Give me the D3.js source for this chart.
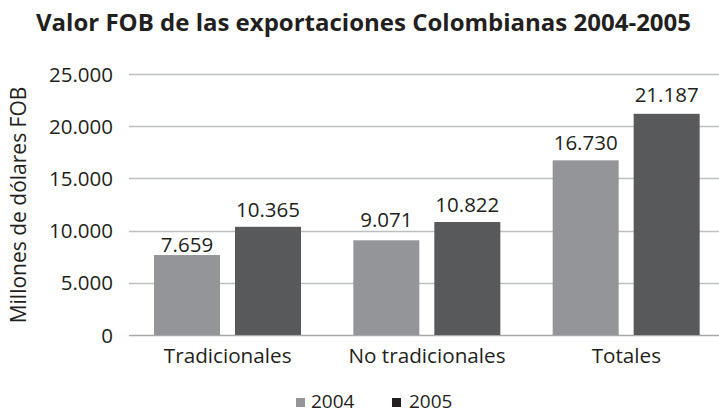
<!DOCTYPE html>
<html><head><meta charset="utf-8">
<script src="https://cdn.jsdelivr.net/npm/d3@7"></script>
<style>body{margin:0;background:#fff}svg{display:block}</style>
</head><body>
<script>
const title = "Valor FOB de las exportaciones Colombianas 2004-2005";
const yAxisTitle = "Millones de dólares FOB";
const categories = ["Tradicionales", "No tradicionales", "Totales"];
const seriesNames = ["2004", "2005"];
const values2004 = [7659, 9071, 16730];
const values2005 = [10365, 10822, 21187];
const yTicks = [0, 5000, 10000, 15000, 20000, 25000];
const colors = ["#939598", "#58595b"];
const legendColors = ["#939598", "#231f20"];
// styling: gap between bar top and its value label (px)
const labelGap2004 = [3, 13, 10];
const labelGap2005 = [10, 10, 12];

const W = 719, H = 414;
const font = "'Open Sans', sans-serif";
const textColor = "#231f20";
const wordSize = 20.7, numSize = 20.5;
const svg = d3.select("body").append("svg").attr("width", W).attr("height", H);

const y = d3.scaleLinear().domain([0, 25000]).range([335, 74]);
const x0 = d3.scaleBand().domain(categories).range([128, 726]).paddingInner(0).paddingOuter(0);
const x1 = d3.scaleBand().domain(seriesNames).range([26, 173]).paddingInner(0.185).paddingOuter(0);

const fmt = d3.formatLocale({decimal: ",", thousands: ".", grouping: [3], currency: ["$", ""]}).format(",");

// gridlines
svg.append("g").selectAll("line").data(yTicks).join("line")
  .attr("x1", 129).attr("x2", W).attr("y1", d => Math.round(y(d)) + 0.5).attr("y2", d => Math.round(y(d)) + 0.5)
  .attr("stroke", d => d === 0 ? "#a7a9ac" : "#bcbec0").attr("stroke-width", 1.3);

// y axis labels
const yAxis = d3.axisLeft(y).tickValues(yTicks).tickFormat(d => fmt(d)).tickSize(0).tickPadding(0);
const yg = svg.append("g").attr("transform", "translate(113,0)").call(yAxis);
yg.select(".domain").remove();
yg.selectAll("text").attr("font-family", font).attr("font-size", numSize).attr("fill", textColor).attr("dy", "0.35em");

// bars
const data = categories.map((c, i) => ({cat: c, vals: [
  {s: seriesNames[0], v: values2004[i], c: colors[0], g: labelGap2004[i]},
  {s: seriesNames[1], v: values2005[i], c: colors[1], g: labelGap2005[i]}]}));

const groups = svg.append("g").selectAll("g").data(data).join("g")
  .attr("transform", d => `translate(${x0(d.cat)},0)`);
groups.selectAll("rect").data(d => d.vals).join("rect")
  .attr("x", d => x1(d.s)).attr("width", x1.bandwidth())
  .attr("y", d => y(d.v)).attr("height", d => y(0) - y(d.v))
  .attr("fill", d => d.c);
groups.selectAll("text").data(d => d.vals).join("text")
  .attr("x", d => x1(d.s) + x1.bandwidth() / 2).attr("y", d => y(d.v) - d.g)
  .attr("text-anchor", "middle").attr("font-family", font).attr("font-size", numSize).attr("fill", textColor)
  .text(d => fmt(d.v));

// x axis labels
const xAxis = d3.axisBottom(x0).tickSize(0).tickPadding(0);
const xg = svg.append("g").attr("transform", "translate(0,363)").call(xAxis);
xg.select(".domain").remove();
xg.selectAll("text").attr("font-family", font).attr("font-size", wordSize).attr("fill", textColor).attr("dy", "0");

// title
svg.append("text").attr("x", 363.5).attr("y", 31).attr("text-anchor", "middle")
  .attr("font-family", font).attr("font-weight", "bold").attr("font-size", 24).attr("fill", textColor)
  .text(title);

// y axis title
svg.append("text").attr("transform", "translate(26,205) rotate(-90)").attr("text-anchor", "middle")
  .attr("font-family", font).attr("font-size", 21).attr("fill", textColor).text(yAxisTitle);

// legend
const legendX = [296, 392];
const lg = svg.append("g").selectAll("g").data(seriesNames).join("g")
  .attr("transform", (d, i) => `translate(${legendX[i]},0)`);
lg.append("rect").attr("x", 0).attr("y", 398).attr("width", 9).attr("height", 9).attr("fill", (d, i) => legendColors[i]);
lg.append("text").attr("x", d => d === "2004" ? 15 : 17).attr("y", 408).attr("font-family", font).attr("font-size", 19).attr("fill", textColor).text(d => d);
</script>
</body></html>
